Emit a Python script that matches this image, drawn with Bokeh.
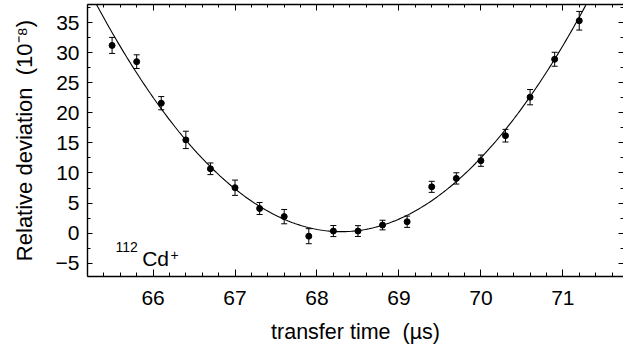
import numpy as np
from bokeh.plotting import figure
from bokeh.models import (ColumnDataSource, Whisker, TeeHead, LinearAxis, Label,
                          SingleIntervalTicker, CustomLabelingPolicy)
from bokeh.embed import file_html
from bokeh.resources import INLINE

# ---- data ----
transfer_time = [65.5, 65.8, 66.1, 66.4, 66.7, 67.0, 67.3, 67.6, 67.9, 68.2,
                 68.5, 68.8, 69.1, 69.4, 69.7, 70.0, 70.3, 70.6, 70.9, 71.2]
rel_deviation = [31.2, 28.5, 21.6, 15.5, 10.7, 7.55, 4.1, 2.75, -0.5, 0.35,
                 0.35, 1.35, 1.9, 7.7, 9.1, 12.05, 16.2, 22.6, 28.9, 35.3]
error = [1.33, 1.14, 1.1, 1.44, 0.97, 1.27, 1.0, 1.19, 1.25, 0.92,
         0.9, 0.8, 0.94, 0.92, 0.94, 0.94, 1.05, 1.27, 1.16, 1.55]

# fitted parabola (parameters)
fit_center = 68.297
fit_min = 0.25
fit_curv = 4.23

FONT = "Liberation Sans"
SP = " \u00a0"  # double space that survives SVG whitespace collapsing

src = ColumnDataSource(dict(
    x=transfer_time, y=rel_deviation,
    lo=[v - e for v, e in zip(rel_deviation, error)],
    hi=[v + e for v, e in zip(rel_deviation, error)],
))

p = figure(width=623, height=349, x_range=(65.2, 71.74), y_range=(-7.2, 38),
           output_backend="svg", toolbar_location=None,
           min_border_left=87, min_border_right=0, min_border_top=4, min_border_bottom=73)
p.outline_line_color = None
p.background_fill_color = "white"
p.border_fill_color = "white"
p.xgrid.visible = False
p.ygrid.visible = False

# fit curve
fx = np.linspace(65.2, 71.74, 300)
fy = fit_min + fit_curv * (fx - fit_center) ** 2
p.line(fx, fy, line_color="black", line_width=1.1)

# error bars
w = Whisker(source=src, base="x", lower="lo", upper="hi", line_color="black", line_width=1,
            upper_head=TeeHead(size=6, line_color="black", line_width=1),
            lower_head=TeeHead(size=6, line_color="black", line_width=1))
p.add_layout(w)
p.scatter("x", "y", source=src, size=6, color="black")

# axes styling
def style_axis(ax, major_in, minor_in):
    ax.major_tick_in = major_in
    ax.major_tick_out = 0
    ax.minor_tick_in = minor_in
    ax.minor_tick_out = 0
    ax.axis_line_color = "black"
    ax.axis_line_width = 1.4
    ax.major_tick_line_color = "black"
    ax.minor_tick_line_color = "black"
    ax.major_label_text_color = "black"
    ax.major_label_text_font = FONT
    ax.axis_label_text_font = FONT
    ax.axis_label_text_font_style = "normal"
    ax.axis_label_text_color = "black"

xa = p.xaxis[0]
xa.ticker = SingleIntervalTicker(interval=1, num_minor_ticks=5)
style_axis(xa, 7, 4)
xa.major_label_text_font_size = "21px"
xa.major_label_standoff = 14
xa.axis_label = "transfer time" + SP + "(µs)"
xa.axis_label_text_font_size = "21.5px"
xa.axis_label_standoff = 12

ya = p.yaxis[0]
ya.ticker = SingleIntervalTicker(interval=5, num_minor_ticks=2)
style_axis(ya, 5, 3)
ya.major_label_text_font_size = "21px"
ya.major_label_standoff = 8
ya.axis_label = "Relative deviation" + SP + "(10⁻⁸)"
ya.axis_label_text_font_size = "22px"
ya.axis_label_standoff = 16

HIDE = """
for (let i = 0; i < indices.size; i++) { indices.unset(i) }
return indices
"""

top = LinearAxis(ticker=SingleIntervalTicker(interval=1, num_minor_ticks=5))
style_axis(top, 6, 3)
top.major_label_policy = CustomLabelingPolicy(code=HIDE)
top.major_label_text_font_size = "0px"
top.major_label_standoff = 0
p.add_layout(top, "above")

right = LinearAxis(ticker=SingleIntervalTicker(interval=5, num_minor_ticks=2))
style_axis(right, 5, 3)
right.axis_line_color = None
right.major_label_policy = CustomLabelingPolicy(code=HIDE)
right.major_label_text_font_size = "0px"
right.major_label_standoff = 0
p.add_layout(right, "right")

# 112Cd+ label
p.add_layout(Label(x=65.542, y=-2.38, text="112", text_font=FONT, text_font_size="14px",
                   text_baseline="alphabetic", text_color="black"))
p.add_layout(Label(x=65.867, y=-4.15, text="Cd", text_font=FONT, text_font_size="21px",
                   text_baseline="alphabetic", text_color="black"))
p.add_layout(Label(x=66.213, y=-3.55, text="+", text_font=FONT, text_font_size="14px",
                   text_baseline="alphabetic", text_color="black"))

open("out.html", "w").write(file_html(p, INLINE))
